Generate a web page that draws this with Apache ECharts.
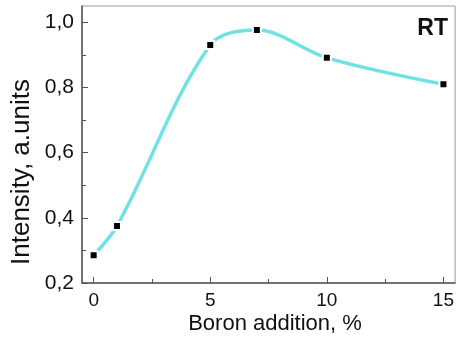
<!DOCTYPE html>
<html>
<head>
<meta charset="utf-8">
<script src="https://cdn.jsdelivr.net/npm/echarts@6/dist/echarts.min.js"></script>
<style>html,body{margin:0;padding:0;background:#fff;}#c{width:457px;height:339px;}</style>
</head>
<body>
<div id="c"></div>
<script>
var boron = [0, 1, 5, 7, 10, 15];
var intensity = [0.285, 0.375, 0.93, 0.976, 0.891, 0.81];
var xMajorTicks = [0, 5, 10, 15];
var xMinorTicks = [2.5, 7.5, 12.5];
var yMajorTicks = [0.2, 0.4, 0.6, 0.8, 1.0];
var yMinorTicks = [0.3, 0.5, 0.7, 0.9];
var xTitle = 'Boron addition, %';
var yTitle = 'Intensity, a.units';
var tag = 'RT';

var FONT = '"Liberation Sans", Arial, sans-serif';
var chart = echarts.init(document.getElementById('c'), null, {renderer: 'canvas'});
var pts = boron.map(function (x, i) { return [x, intensity[i]]; });
function fmtY(v) { return v.toFixed(1).replace('.', ','); }

chart.setOption({
  animation: false,
  backgroundColor: '#fff',
  grid: {left: 82, top: 6, width: 376, height: 277, show: true, borderColor: '#9a9a9a', borderWidth: 1, containLabel: false},
  xAxis: [{
    type: 'value', min: -0.5, max: 15.5, position: 'bottom',
    axisLine: {show: true, onZero: false, lineStyle: {color: '#555', width: 1.5}},
    axisTick: {show: true, inside: true, length: 6, customValues: xMajorTicks, lineStyle: {color: '#555'}},
    axisLabel: {show: true, customValues: xMajorTicks, fontSize: 19, color: '#111', fontFamily: FONT, margin: 8},
    splitLine: {show: false}
  }, {
    type: 'value', min: -0.5, max: 15.5, position: 'bottom',
    axisLine: {show: false, onZero: false},
    axisTick: {show: true, inside: true, length: 4, customValues: xMinorTicks, lineStyle: {color: '#555'}},
    axisLabel: {show: false},
    splitLine: {show: false}
  }],
  yAxis: [{
    type: 'value', min: 0.2, max: 1.05, position: 'left',
    axisLine: {show: true, onZero: false, lineStyle: {color: '#555', width: 1.5}},
    axisTick: {show: true, inside: true, length: 6, customValues: yMajorTicks, lineStyle: {color: '#555'}},
    axisLabel: {show: true, customValues: yMajorTicks, formatter: fmtY, fontSize: 21, color: '#111', fontFamily: FONT, margin: 8},
    splitLine: {show: false}
  }, {
    type: 'value', min: 0.2, max: 1.05, position: 'left',
    axisLine: {show: false, onZero: false},
    axisTick: {show: true, inside: true, length: 4, customValues: yMinorTicks, lineStyle: {color: '#555'}},
    axisLabel: {show: false},
    splitLine: {show: false}
  }],
  series: [{
    type: 'line', xAxisIndex: 0, yAxisIndex: 0,
    data: pts, smooth: 0.35,
    lineStyle: {color: '#70e2e6', width: 3.5},
    symbol: 'rect', symbolSize: 8, showSymbol: true,
    itemStyle: {color: '#000', borderColor: '#fff', borderWidth: 2}
  }],
  graphic: [
    {type: 'text', x: 275, y: 324, style: {text: xTitle, font: '22px ' + FONT, fill: '#111', align: 'center', verticalAlign: 'middle'}},
    {type: 'text', x: 22, y: 172, rotation: Math.PI / 2, style: {text: yTitle, font: '26px ' + FONT, fill: '#111', align: 'center', verticalAlign: 'middle'}},
    {type: 'text', x: 448, y: 17, style: {text: tag, font: 'bold 23px ' + FONT, fill: '#111', align: 'right', verticalAlign: 'top'}}
  ]
});
</script>
</body>
</html>
